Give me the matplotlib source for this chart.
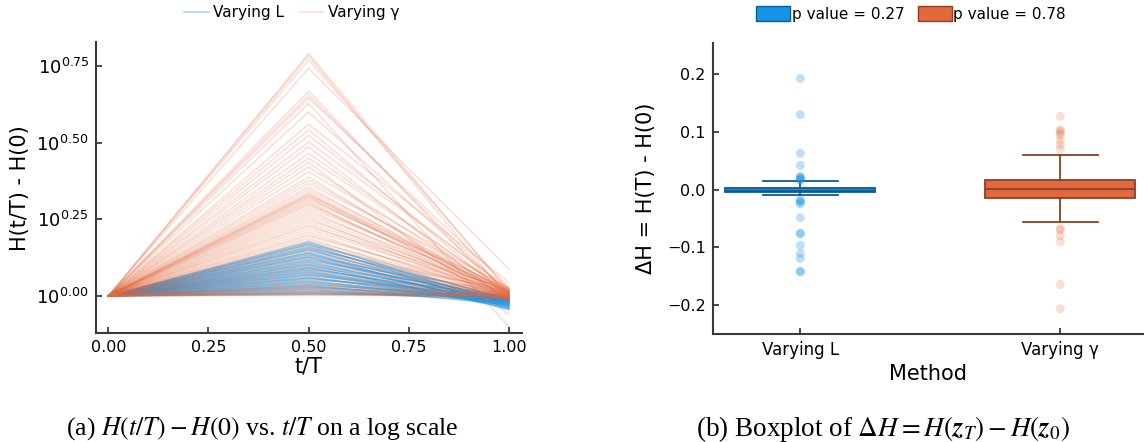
import numpy as np
import matplotlib
matplotlib.use("Agg")
import matplotlib.pyplot as plt
from matplotlib.patches import Patch

# time grid of the trajectories
t_points = [0.0, 0.5, 1.0]

# log10 of H(t/T) - H(0) at t/T = 0.5 and 1.0, one entry per run
peak_L = [0.177, 0.171, 0.168, 0.162, 0.157, 0.153, 0.149, 0.142, 0.139, 0.134,
          0.129, 0.126, 0.121, 0.116, 0.112, 0.107, 0.103, 0.099, 0.094, 0.091,
          0.087, 0.083, 0.079, 0.075, 0.071, 0.068, 0.063, 0.059, 0.056, 0.051,
          0.047, 0.043, 0.039, 0.035, 0.031, 0.027, 0.023, 0.019, 0.014, 0.010,
          0.006]
end_L = [-0.031, -0.012, -0.040, -0.022, -0.008, -0.035, -0.018, -0.027, -0.045, -0.010,
         -0.024, -0.038, -0.015, -0.006, -0.029, -0.020, -0.042, -0.011, -0.033, -0.017,
         -0.004, -0.026, -0.036, -0.013, -0.021, -0.009, -0.030, -0.016, -0.003, -0.025,
         -0.012, -0.019, -0.007, -0.028, -0.014, -0.002, -0.010, -0.018, -0.005, -0.008,
         0.004]

peak_gamma = [0.790, 0.783, 0.770, 0.742, 0.668, 0.655, 0.645, 0.628, 0.600, 0.560,
              0.542, 0.524, 0.502, 0.486, 0.465, 0.449, 0.436, 0.421, 0.405, 0.388,
              0.378, 0.367, 0.356, 0.348, 0.340, 0.334, 0.330, 0.327, 0.322, 0.318,
              0.312, 0.307, 0.301, 0.296, 0.288, 0.280, 0.272, 0.264, 0.256, 0.248,
              0.240, 0.232, 0.226, 0.218, 0.209, 0.201, 0.195, 0.188, 0.181, 0.174,
              0.166, 0.158, 0.150, 0.143, 0.135, 0.127, 0.118, 0.110, 0.102, 0.094,
              0.086, 0.078, 0.069, 0.061, 0.053, 0.045, 0.037, 0.029, 0.021, 0.013,
              0.006, 0.033, 0.026, 0.017, 0.011, 0.008, 0.004, 0.002]
end_gamma = [0.012, -0.008, 0.020, 0.088, -0.015, 0.005, 0.030, -0.100, 0.010, 0.045,
             -0.005, 0.018, 0.025, -0.020, 0.008, 0.015, -0.060, 0.002, 0.022, -0.010,
             0.012, 0.028, -0.004, 0.016, 0.006, -0.012, 0.020, 0.009, -0.002, 0.014,
             0.024, -0.016, 0.003, 0.011, 0.019, -0.007, 0.013, 0.001, -0.013, 0.017,
             0.007, -0.003, 0.021, 0.010, -0.009, 0.004, 0.015, -0.018, 0.008, 0.000,
             0.012, -0.006, 0.018, 0.002, -0.011, 0.009, 0.014, -0.004, 0.006, 0.011,
             -0.014, 0.003, 0.007, -0.008, 0.010, 0.001, -0.002, 0.005, -0.010, 0.004,
             0.000, 0.006, -0.004, 0.003, -0.007, 0.002, -0.001, 0.001]

# boxplot summaries of dH = H(T) - H(0)
methods = ["Varying L", "Varying γ"]
p_values = [0.27, 0.78]
box_L = dict(q1=-0.005, med=-0.002, q3=0.003, whislo=-0.010, whishi=0.014)
box_gamma = dict(q1=-0.014, med=0.001, q3=0.016, whislo=-0.056, whishi=0.060)
fliers_L = [0.193, 0.130, 0.063, 0.042, 0.023, 0.021, 0.019, 0.018, 0.016,
            -0.018, -0.020, -0.022, -0.025, -0.049, -0.076, -0.077, -0.097,
            -0.111, -0.120, -0.142, -0.143]
fliers_gamma = [0.127, 0.104, 0.101, 0.098, 0.094, 0.085, 0.078, 0.070,
                -0.068, -0.070, -0.080, -0.091, -0.165, -0.207]

BLUE = "#1593e6"
BLUE_DARK = "#0b5c94"
ORANGE = "#e2693e"
ORANGE_DARK = "#8a4128"
SPINE = "#3a3a3a"

plt.rcParams["font.family"] = ["DejaVu Sans"]

fig = plt.figure(figsize=(11.44, 4.42), dpi=100)
W, H = 1144, 442


def rect(x0, y0, x1, y1):
    return [x0 / W, 1 - y1 / H, (x1 - x0) / W, (y1 - y0) / H]


def style_axes(ax):
    for side in ("top", "right"):
        ax.spines[side].set_visible(False)
    for side in ("left", "bottom"):
        ax.spines[side].set_linewidth(1.5)
        ax.spines[side].set_color(SPINE)
    ax.tick_params(direction="in", length=4.5, width=1.3, color=SPINE,
                   labelsize=11.5, pad=5)


# ---- (a) trajectories on a log scale ----
ax1 = fig.add_axes(rect(95.7, 42, 521.5, 333.3))
style_axes(ax1)
for pk, en in zip(peak_L, end_L):
    ax1.plot(t_points, 10 ** np.array([0.0, pk, en]), color=BLUE, alpha=0.4,
             lw=1.1, label="Varying L" if pk == peak_L[0] else None)
for pk, en in zip(peak_gamma, end_gamma):
    ax1.plot(t_points, 10 ** np.array([0.0, pk, en]), color=ORANGE, alpha=0.22,
             lw=1.1, label="Varying γ" if pk == peak_gamma[0] else None)

ax1.set_yscale("log")
ax1.set_xlim(-0.0315, 1.0315)
ax1.set_ylim(10 ** -0.1215, 10 ** 0.828)
yexp = [0.0, 0.25, 0.5, 0.75]
ax1.set_yticks([10 ** e for e in yexp])
ax1.set_yticklabels([r"$10^{%.2f}$" % e for e in yexp])
ax1.yaxis.set_minor_locator(matplotlib.ticker.NullLocator())
ax1.tick_params(axis="y", labelsize=13)
ax1.set_xticks([0.0, 0.25, 0.5, 0.75, 1.0])
ax1.set_xticklabels(["0.00", "0.25", "0.50", "0.75", "1.00"])
ax1.set_xlabel("t/T", fontsize=15, labelpad=1)
ax1.set_ylabel("H(t/T) - H(0)", fontsize=15)
ax1.yaxis.set_label_coords(-0.154, 0.5)
ax1.legend(loc="center", bbox_to_anchor=(0.461, 1.1), ncol=2, frameon=False,
           fontsize=11, handlelength=1.6, handletextpad=0.3, columnspacing=1.0)

# ---- (b) boxplot of the energy drift ----
ax2 = fig.add_axes(rect(712.7, 43.3, 1144, 334))
style_axes(ax2)
stats = [dict(box_L, fliers=[]), dict(box_gamma, fliers=[])]
bp = ax2.bxp(stats, positions=[0, 1], widths=0.577, capwidths=0.29,
             patch_artist=True, showfliers=False)
for i, (face, edge) in enumerate([(BLUE, BLUE_DARK), (ORANGE, ORANGE_DARK)]):
    bp["boxes"][i].set(facecolor=face, edgecolor=edge, linewidth=1.3)
    bp["medians"][i].set(color=edge, linewidth=1.3)
    for ln in bp["whiskers"][2 * i:2 * i + 2] + bp["caps"][2 * i:2 * i + 2]:
        ln.set(color=edge, linewidth=1.3)

ax2.scatter(np.zeros(len(fliers_L)), fliers_L, s=42, color=BLUE, alpha=0.28,
            edgecolors="none", zorder=4)
ax2.scatter(np.ones(len(fliers_gamma)), fliers_gamma, s=42, color=ORANGE,
            alpha=0.22, edgecolors="none", zorder=4)

ax2.set_xlim(-0.337, 1.322)
ax2.set_ylim(-0.251, 0.254)
ax2.set_yticks([-0.2, -0.1, 0.0, 0.1, 0.2])
ax2.set_xticks([0, 1])
ax2.set_xticklabels(methods, fontsize=12)
ax2.set_xlabel("Method", fontsize=15, labelpad=4)
ax2.set_ylabel("ΔH = H(T) - H(0)", fontsize=15)
ax2.yaxis.set_label_coords(-0.131, 0.5)
handles = [Patch(facecolor=BLUE, edgecolor=BLUE_DARK, lw=1.0,
                 label="p value = %.2f" % p_values[0]),
           Patch(facecolor=ORANGE, edgecolor=ORANGE_DARK, lw=1.0,
                 label="p value = %.2f" % p_values[1])]
ax2.legend(handles=handles, loc="center", bbox_to_anchor=(0.46, 1.1), ncol=2,
           frameon=False, fontsize=11, handlelength=2.2, handleheight=1.1,
           handletextpad=0.1, columnspacing=0.9)

# ---- sub-captions ----
cap_kw = dict(family="Liberation Serif", math_fontfamily="stix",
              ha="center", va="center")
fig.text(262 / W, 1 - 429 / H, r"(a) $H(t/T) - H(0)$ vs. $t/T$ on a log scale",
         fontsize=18.5, **cap_kw)
fig.text(883 / W, 1 - 429 / H,
         r"(b) Boxplot of $\Delta H = H(\mathbfit{z}_T) - H(\mathbfit{z}_0)$",
         fontsize=19.5, **cap_kw)

fig.savefig("out.png", dpi=100)
